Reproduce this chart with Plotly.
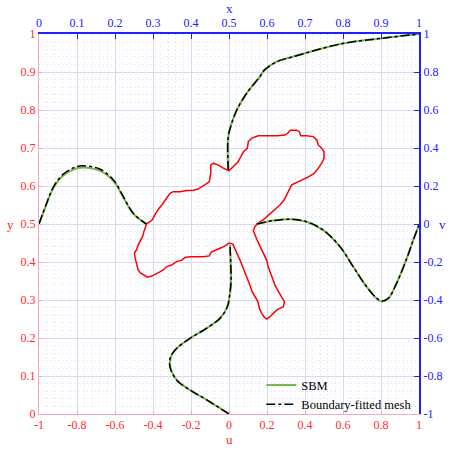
import plotly.graph_objects as go

# ---- velocity profile along the vertical centreline x = 0.5 : u(y) ----
u_low_y = [0.0, 0.037, 0.063, 0.089, 0.124, 0.151, 0.173, 0.199, 0.226, 0.252, 0.282, 0.318, 0.353, 0.397, 0.445]
u_low_sbm = [0.0, -0.117, -0.205, -0.274, -0.309, -0.305, -0.274, -0.205, -0.117, -0.047, -0.009, 0.005, 0.011, 0.009, 0.005]
u_low_bfm = [0.0, -0.117, -0.205, -0.275, -0.311, -0.307, -0.275, -0.205, -0.117, -0.047, -0.009, 0.005, 0.011, 0.009, 0.005]

u_up_y = [0.642, 0.695, 0.730, 0.765, 0.800, 0.844, 0.888, 0.905, 0.927, 0.940, 0.975, 0.989, 1.0]
u_up_sbm = [-0.004, -0.007, -0.004, 0.014, 0.041, 0.093, 0.163, 0.186, 0.251, 0.335, 0.598, 0.809, 1.0]
u_up_bfm = [-0.004, -0.007, -0.004, 0.014, 0.041, 0.093, 0.163, 0.186, 0.251, 0.335, 0.598, 0.809, 1.0]

# ---- velocity profile along the horizontal centreline y = 0.5 : v(x) ----
v_left_x = [0.0, 0.020, 0.038, 0.064, 0.099, 0.126, 0.161, 0.196, 0.222, 0.248, 0.283]
v_left_sbm = [0.0, 0.105, 0.190, 0.255, 0.293, 0.296, 0.280, 0.226, 0.140, 0.054, 0.0]
v_left_bfm = [0.0, 0.109, 0.196, 0.263, 0.302, 0.305, 0.288, 0.232, 0.144, 0.056, 0.0]

v_right_x = [0.573, 0.617, 0.661, 0.704, 0.748, 0.792, 0.827, 0.862, 0.889, 0.902, 0.919, 0.941, 0.968, 0.985, 0.998, 1.0]
v_right_sbm = [0.0, 0.018, 0.025, 0.012, -0.032, -0.119, -0.225, -0.330, -0.393, -0.408, -0.393, -0.312, -0.180, -0.084, -0.014, 0.0]
v_right_bfm = [0.0, 0.018, 0.025, 0.012, -0.032, -0.119, -0.225, -0.330, -0.391, -0.405, -0.391, -0.312, -0.180, -0.084, -0.014, 0.0]

# ---- immersed body outline (x, y) ----
body_x = [0.500, 0.511, 0.524, 0.531, 0.538, 0.548, 0.551, 0.560, 0.577, 0.599, 0.626, 0.647, 0.656, 0.661,
          0.678, 0.685, 0.689, 0.704, 0.722, 0.731, 0.735, 0.744, 0.750, 0.750, 0.744, 0.735, 0.724, 0.709,
          0.696, 0.682, 0.671, 0.665, 0.658, 0.652, 0.645, 0.634, 0.621, 0.612, 0.603, 0.590, 0.577, 0.574,
          0.568, 0.564, 0.568, 0.574, 0.580, 0.586, 0.592, 0.599, 0.603, 0.608, 0.615, 0.621, 0.630, 0.639,
          0.646, 0.643, 0.634, 0.626, 0.617, 0.608, 0.599, 0.592, 0.586, 0.580, 0.576, 0.568, 0.561, 0.555,
          0.548, 0.542, 0.536, 0.529, 0.523, 0.516, 0.510, 0.500, 0.494, 0.481, 0.468, 0.454, 0.448, 0.432,
          0.415, 0.397, 0.384, 0.376, 0.362, 0.349, 0.336, 0.327, 0.318, 0.310, 0.297, 0.285, 0.274, 0.266,
          0.261, 0.257, 0.253, 0.251, 0.257, 0.261, 0.268, 0.273, 0.276, 0.281, 0.283, 0.292, 0.298, 0.305,
          0.314, 0.323, 0.332, 0.345, 0.353, 0.371, 0.389, 0.406, 0.419, 0.428, 0.437, 0.448, 0.452, 0.452,
          0.459, 0.472, 0.485, 0.500]
body_y = [0.640, 0.651, 0.664, 0.677, 0.690, 0.699, 0.717, 0.726, 0.732, 0.732, 0.732, 0.734, 0.740, 0.747,
          0.747, 0.743, 0.732, 0.732, 0.730, 0.721, 0.708, 0.699, 0.690, 0.673, 0.660, 0.647, 0.633, 0.624,
          0.618, 0.611, 0.607, 0.603, 0.589, 0.576, 0.563, 0.550, 0.539, 0.530, 0.522, 0.511, 0.503, 0.500,
          0.493, 0.482, 0.471, 0.458, 0.445, 0.432, 0.418, 0.405, 0.388, 0.374, 0.357, 0.339, 0.322, 0.309,
          0.296, 0.282, 0.278, 0.274, 0.265, 0.256, 0.250, 0.256, 0.265, 0.278, 0.296, 0.309, 0.322, 0.339,
          0.357, 0.374, 0.392, 0.405, 0.418, 0.436, 0.447, 0.450, 0.445, 0.438, 0.432, 0.427, 0.416, 0.414,
          0.414, 0.414, 0.412, 0.405, 0.401, 0.392, 0.388, 0.379, 0.374, 0.370, 0.363, 0.360, 0.366, 0.372,
          0.379, 0.392, 0.410, 0.423, 0.433, 0.445, 0.458, 0.468, 0.480, 0.493, 0.500, 0.506, 0.511, 0.524,
          0.539, 0.550, 0.563, 0.581, 0.585, 0.585, 0.588, 0.589, 0.592, 0.598, 0.605, 0.611, 0.633, 0.655,
          0.660, 0.655, 0.647, 0.640]

# ---- tick labels ----
sym_ticks = [-1, -0.8, -0.6, -0.4, -0.2, 0, 0.2, 0.4, 0.6, 0.8, 1]
sym_labels = ["-1", "-0.8", "-0.6", "-0.4", "-0.2", "0", "0.2", "0.4", "0.6", "0.8", "1"]
unit_ticks = [0, 0.1, 0.2, 0.3, 0.4, 0.5, 0.6, 0.7, 0.8, 0.9, 1]
unit_labels = ["0", "0.1", "0.2", "0.3", "0.4", "0.5", "0.6", "0.7", "0.8", "0.9", "1"]

FONT = "Liberation Serif"
RED = "#ff2b2b"
BLUE = "#2020ff"
PINK = "#f2a8c0"
GREEN = "#7ab648"
GRID = "#d8d8f4"
MINOR = "#dedef8"

fig = go.Figure()

line_sbm = dict(color=GREEN, width=2, shape="spline")
line_bfm = dict(color="black", width=1.5, dash="dashdot", shape="spline")

# SBM (green solid), u(y)
fig.add_trace(go.Scatter(x=u_low_sbm, y=u_low_y, xaxis="x", yaxis="y", mode="lines", line=line_sbm,
                         name="SBM", legendgroup="sbm", showlegend=True))
fig.add_trace(go.Scatter(x=u_up_sbm, y=u_up_y, xaxis="x", yaxis="y", mode="lines", line=line_sbm,
                         name="SBM", legendgroup="sbm", showlegend=False))
# Boundary-fitted mesh (black dash-dot), u(y)
fig.add_trace(go.Scatter(x=u_low_bfm, y=u_low_y, xaxis="x", yaxis="y", mode="lines", line=line_bfm,
                         name="Boundary-fitted mesh", legendgroup="bfm", showlegend=True))
fig.add_trace(go.Scatter(x=u_up_bfm, y=u_up_y, xaxis="x", yaxis="y", mode="lines", line=line_bfm,
                         name="Boundary-fitted mesh", legendgroup="bfm", showlegend=False))

# v(x) profiles on top / right axes
for xs, vs in ((v_left_x, v_left_sbm), (v_right_x, v_right_sbm)):
    fig.add_trace(go.Scatter(x=xs, y=vs, xaxis="x2", yaxis="y2", mode="lines", line=line_sbm,
                             name="SBM", legendgroup="sbm", showlegend=False))
for xs, vs in ((v_left_x, v_left_bfm), (v_right_x, v_right_bfm)):
    fig.add_trace(go.Scatter(x=xs, y=vs, xaxis="x2", yaxis="y2", mode="lines", line=line_bfm,
                             name="Boundary-fitted mesh", legendgroup="bfm", showlegend=False))

# body outline
fig.add_trace(go.Scatter(x=body_x, y=body_y, xaxis="x2", yaxis="y", mode="lines",
                         line=dict(color="#ff0000", width=1.5), showlegend=False, hoverinfo="skip"))

tick_font_red = dict(family=FONT, size=12, color=RED)
tick_font_blue = dict(family=FONT, size=12, color=BLUE)
minor_grid = dict(dtick=0.02, showgrid=True, gridcolor=MINOR, griddash="1px,3px", gridwidth=1)

fig.update_layout(
    width=456, height=449,
    margin=dict(l=39, r=37, t=34, b=35),
    paper_bgcolor="white", plot_bgcolor="white",
    font=dict(family=FONT, size=12, color="black"),
    xaxis=dict(range=[-1, 1], tickvals=sym_ticks, ticktext=sym_labels, tickfont=tick_font_red,
               showline=True, linecolor=PINK, linewidth=1, ticks="inside", ticklen=3, tickcolor=PINK,
               showgrid=False, zeroline=False, anchor="y", side="bottom"),
    yaxis=dict(range=[0, 1], tickvals=unit_ticks, ticktext=unit_labels, tickfont=tick_font_red,
               showline=True, linecolor=PINK, linewidth=1, ticks="inside", ticklen=3, tickcolor=PINK,
               showgrid=True, gridcolor=GRID, gridwidth=1, zeroline=False, anchor="x",
               minor=minor_grid),
    xaxis2=dict(range=[0, 1], tickvals=unit_ticks, ticktext=unit_labels, tickfont=tick_font_blue,
                overlaying="x", side="top", anchor="y",
                showline=True, linecolor=BLUE, linewidth=2, ticks="inside", ticklen=5, tickcolor=BLUE,
                showgrid=True, gridcolor=GRID, gridwidth=1, zeroline=False,
                minor=minor_grid),
    yaxis2=dict(range=[-1, 1], tickvals=sym_ticks, ticktext=sym_labels, tickfont=tick_font_blue,
                overlaying="y", side="right", anchor="x",
                showline=True, linecolor=BLUE, linewidth=2, ticks="inside", ticklen=5, tickcolor=BLUE,
                showgrid=False, zeroline=False),
    legend=dict(x=0.585, y=0.115, xanchor="left", yanchor="top", bgcolor="rgba(0,0,0,0)",
                font=dict(family=FONT, size=12.5, color="black"), tracegroupgap=0, itemwidth=30),
    annotations=[
        dict(text="x", xref="paper", yref="paper", x=0.5, y=1.068, xanchor="center", yanchor="middle",
             showarrow=False, font=dict(family=FONT, size=13, color=BLUE)),
        dict(text="u", xref="paper", yref="paper", x=0.5, y=-0.068, xanchor="center", yanchor="middle",
             showarrow=False, font=dict(family=FONT, size=13, color=RED)),
        dict(text="y", xref="paper", yref="paper", x=-0.076, y=0.5, xanchor="center", yanchor="middle",
             showarrow=False, font=dict(family=FONT, size=13, color=RED)),
        dict(text="v", xref="paper", yref="paper", x=1.063, y=0.5, xanchor="center", yanchor="middle",
             showarrow=False, font=dict(family=FONT, size=13, color=BLUE)),
    ],
)

fig.write_html("out.html")
